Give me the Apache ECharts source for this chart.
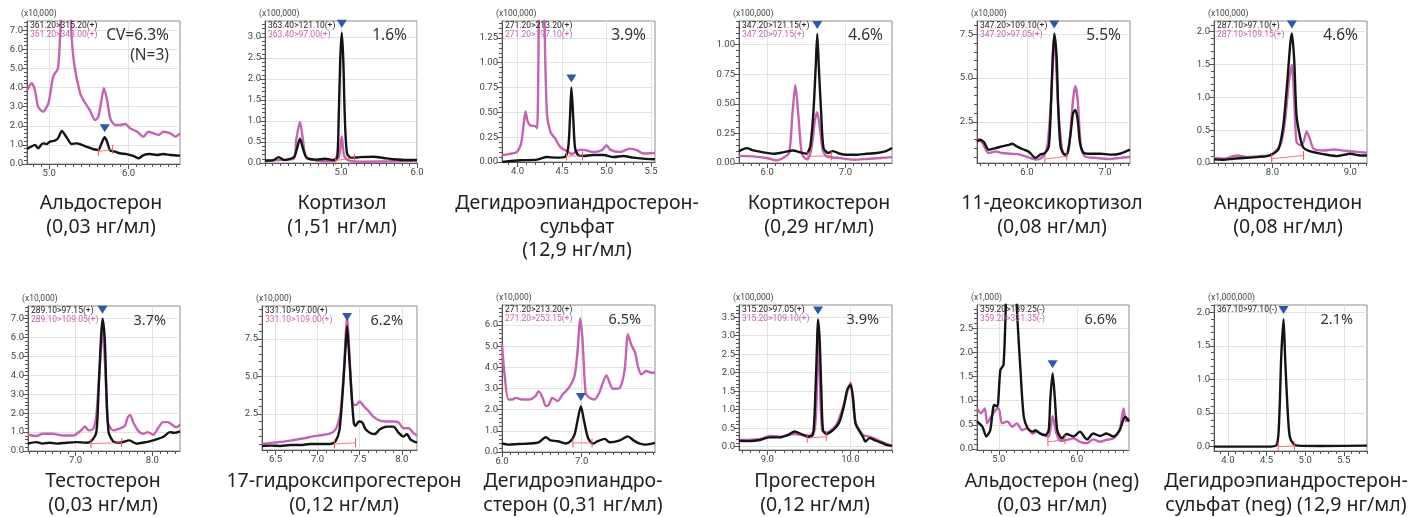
<!DOCTYPE html>
<html>
<head>
<meta charset="utf-8">
<script src="https://cdn.jsdelivr.net/npm/echarts@6.0.0/dist/echarts.min.js"></script>
<style>
html, body { margin: 0; padding: 0; background: #fff; }
#chart { width: 1422px; height: 517px; }
</style>
</head>
<body>
<div id="chart"></div>
<script>
// chromatogram traces, [retention time (min), intensity in axis units]
const aldoBlack = [[4.72,0.79],[4.77,0.9],[4.82,1.0],[4.86,0.82],[4.92,1.08],[4.97,1.05],[5.01,1.17],[5.07,1.22],[5.11,1.34],[5.16,1.73],[5.20,1.52],[5.24,1.26],[5.28,1.05],[5.35,1.08],[5.41,1.0],[5.47,0.9],[5.56,0.77],[5.62,0.73],[5.66,1.08],[5.70,1.4],[5.73,1.17],[5.77,0.7],[5.83,0.65],[5.89,0.56],[5.98,0.52],[6.06,0.42],[6.13,0.3],[6.19,0.47],[6.27,0.52],[6.36,0.47],[6.44,0.52],[6.53,0.47],[6.65,0.44]]
const aldoPink = [[4.72,3.84],[4.78,4.22],[4.82,3.87],[4.86,3.0],[4.92,2.74],[4.99,3.18],[5.05,4.57],[5.11,5.0],[5.14,6.84],[5.18,9.5],[5.26,9.5],[5.28,6.84],[5.32,5.1],[5.39,3.7],[5.43,3.35],[5.51,2.83],[5.58,2.3],[5.62,2.48],[5.66,3.35],[5.69,3.96],[5.73,3.35],[5.77,2.39],[5.83,2.04],[5.89,2.04],[5.96,2.09],[6.02,1.87],[6.11,1.69],[6.19,1.43],[6.25,1.69],[6.32,1.6],[6.38,1.52],[6.44,1.69],[6.53,1.6],[6.59,1.43],[6.65,1.6]]
const cortBlack = [[4.0,0.06],[4.11,0.07],[4.18,0.14],[4.25,0.07],[4.38,0.14],[4.42,0.34],[4.46,0.58],[4.50,0.34],[4.55,0.12],[4.68,0.08],[4.79,0.1],[4.90,0.07],[4.95,0.14],[4.97,1.1],[4.99,2.46],[5.01,3.10],[5.03,2.46],[5.05,1.1],[5.08,0.22],[5.14,0.12],[5.25,0.14],[5.43,0.15],[5.56,0.12],[5.69,0.09],[5.87,0.07],[6.0,0.07]]
const cortPink = [[4.0,0.04],[4.18,0.07],[4.38,0.1],[4.41,0.54],[4.46,0.98],[4.50,0.54],[4.54,0.15],[4.68,0.06],[4.90,0.04],[4.97,0.14],[5.01,0.63],[5.04,0.18],[5.10,0.06],[5.25,0.03],[5.64,0.04],[6.0,0.06]]
const dhsBlack = [[3.83,0.0],[4.03,0.017],[4.22,0.024],[4.33,0.05],[4.44,0.044],[4.53,0.05],[4.57,0.15],[4.59,0.46],[4.605,0.75],[4.625,0.46],[4.645,0.15],[4.68,0.07],[4.74,0.06],[4.85,0.07],[4.97,0.07],[5.08,0.05],[5.19,0.06],[5.30,0.044],[5.41,0.034],[5.545,0.027]]
const dhsPink = [[3.83,0.07],[3.90,0.08],[3.99,0.1],[4.04,0.19],[4.07,0.39],[4.09,0.51],[4.11,0.42],[4.14,0.37],[4.20,0.36],[4.22,0.34],[4.24,1.6],[4.25,3.0],[4.29,3.0],[4.30,1.6],[4.33,0.49],[4.37,0.30],[4.42,0.24],[4.48,0.15],[4.53,0.12],[4.57,0.1],[4.61,0.08],[4.65,0.1],[4.70,0.125],[4.76,0.12],[4.85,0.1],[4.95,0.12],[5.0,0.17],[5.04,0.125],[5.15,0.1],[5.26,0.135],[5.34,0.12],[5.41,0.085],[5.545,0.09]]
const ctcBlack = [[5.64,0.1],[5.74,0.126],[5.82,0.106],[5.95,0.09],[6.08,0.078],[6.20,0.09],[6.33,0.106],[6.42,0.09],[6.50,0.078],[6.55,0.14],[6.59,0.42],[6.62,0.81],[6.64,1.09],[6.66,0.81],[6.69,0.42],[6.72,0.126],[6.78,0.084],[6.84,0.1],[6.93,0.078],[7.01,0.07],[7.14,0.07],[7.27,0.078],[7.40,0.084],[7.52,0.1],[7.595,0.126]]
const ctcPink = [[5.64,0.06],[5.82,0.056],[5.99,0.042],[6.12,0.022],[6.20,0.042],[6.28,0.084],[6.32,0.39],[6.36,0.66],[6.40,0.39],[6.44,0.084],[6.48,0.042],[6.52,0.034],[6.57,0.14],[6.61,0.36],[6.64,0.43],[6.67,0.31],[6.71,0.11],[6.76,0.056],[6.93,0.042],[7.10,0.028],[7.27,0.034],[7.44,0.042],[7.595,0.05]]
const dxcBlack = [[5.36,1.38],[5.40,1.48],[5.45,1.33],[5.51,0.91],[5.60,1.0],[5.68,1.1],[5.77,1.19],[5.81,1.25],[5.87,1.1],[5.94,0.95],[6.02,0.81],[6.11,0.44],[6.17,0.63],[6.23,0.72],[6.28,1.1],[6.31,3.75],[6.33,6.2],[6.35,7.54],[6.38,6.2],[6.40,3.37],[6.43,1.1],[6.48,0.63],[6.52,0.72],[6.56,1.86],[6.59,2.99],[6.62,3.18],[6.65,2.61],[6.68,1.29],[6.73,0.72],[6.81,0.68],[6.94,0.68],[7.06,0.63],[7.19,0.68],[7.32,0.91]]
const dxcPink = [[5.36,1.57],[5.43,1.29],[5.51,0.72],[5.60,0.81],[5.68,0.72],[5.79,0.68],[5.91,0.63],[6.04,0.44],[6.13,0.34],[6.21,0.53],[6.26,1.1],[6.31,3.75],[6.35,7.35],[6.40,3.37],[6.45,0.91],[6.50,0.53],[6.54,1.1],[6.59,3.75],[6.62,4.55],[6.65,3.75],[6.69,1.1],[6.74,0.53],[6.89,0.44],[7.06,0.38],[7.19,0.44],[7.32,0.49]]
const andBlack = [[7.25,0.055],[7.37,0.05],[7.50,0.065],[7.63,0.075],[7.80,0.09],[7.93,0.105],[8.01,0.14],[8.08,0.215],[8.14,0.57],[8.19,1.22],[8.23,1.82],[8.25,1.97],[8.28,1.57],[8.31,0.72],[8.36,0.37],[8.40,0.23],[8.46,0.19],[8.57,0.155],[8.70,0.125],[8.83,0.105],[9.0,0.14],[9.13,0.115],[9.215,0.115]]
const andPink = [[7.25,0.075],[7.37,0.065],[7.54,0.115],[7.67,0.09],[7.84,0.105],[7.97,0.115],[8.10,0.27],[8.16,0.62],[8.21,1.22],[8.25,1.49],[8.28,0.97],[8.31,0.32],[8.36,0.27],[8.40,0.32],[8.44,0.48],[8.48,0.37],[8.53,0.215],[8.66,0.19],[8.79,0.205],[8.91,0.19],[9.04,0.175],[9.215,0.155]]
const tstBlack = [[6.38,0.39],[6.49,0.47],[6.57,0.39],[6.66,0.44],[6.75,0.39],[6.88,0.44],[7.01,0.47],[7.14,0.44],[7.20,0.51],[7.27,1.0],[7.30,3.28],[7.33,5.9],[7.35,7.0],[7.38,5.9],[7.40,3.28],[7.43,1.0],[7.49,0.51],[7.57,0.44],[7.70,0.56],[7.79,0.39],[7.92,0.47],[8.01,0.56],[8.14,0.74],[8.23,1.0],[8.29,0.96],[8.36,1.04]]
const tstPink = [[6.38,0.86],[6.49,0.79],[6.57,0.91],[6.70,0.91],[6.83,0.82],[6.97,0.82],[7.07,1.09],[7.12,1.3],[7.17,1.09],[7.23,1.18],[7.27,1.88],[7.31,4.16],[7.35,6.4],[7.39,4.16],[7.42,1.53],[7.49,1.09],[7.57,1.18],[7.64,1.32],[7.68,1.79],[7.71,1.91],[7.75,1.53],[7.81,1.09],[7.88,0.91],[7.94,1.0],[8.01,0.86],[8.07,1.18],[8.14,1.53],[8.20,1.53],[8.27,1.35],[8.31,1.26],[8.36,1.39]]
const ohpBlack = [[6.34,0.36],[6.44,0.38],[6.56,0.36],[6.68,0.42],[6.80,0.42],[6.91,0.49],[7.03,0.49],[7.15,0.49],[7.21,0.65],[7.26,1.43],[7.30,4.1],[7.33,6.79],[7.35,8.35],[7.37,6.79],[7.40,4.1],[7.43,1.88],[7.45,1.7],[7.49,1.99],[7.53,1.92],[7.57,1.47],[7.63,1.21],[7.68,1.16],[7.74,1.47],[7.82,1.65],[7.90,1.65],[7.96,1.25],[8.02,0.98],[8.06,1.16],[8.10,0.8],[8.18,0.58]]
const ohpPink = [[6.34,0.49],[6.48,0.58],[6.60,0.65],[6.72,0.76],[6.84,0.87],[6.93,0.98],[7.03,1.07],[7.13,1.16],[7.19,1.32],[7.23,1.65],[7.27,2.54],[7.31,5.22],[7.35,8.9],[7.39,5.22],[7.42,3.1],[7.46,3.1],[7.50,3.33],[7.55,2.99],[7.61,2.66],[7.66,2.32],[7.74,2.05],[7.82,1.99],[7.90,1.99],[7.96,1.92],[8.02,1.54],[8.08,1.54],[8.14,1.21],[8.18,1.03]]
const dheBlack = [[6.0,0.4],[6.08,0.35],[6.21,0.38],[6.34,0.4],[6.46,0.46],[6.55,0.7],[6.61,0.55],[6.70,0.51],[6.80,0.4],[6.86,0.51],[6.91,0.82],[6.95,1.53],[6.99,2.17],[7.03,1.46],[7.08,0.66],[7.14,0.4],[7.20,0.51],[7.29,0.62],[7.35,0.46],[7.48,0.55],[7.58,0.74],[7.65,0.55],[7.73,0.4],[7.81,0.35],[7.92,0.43]]
const dhePink = [[6.0,5.09],[6.03,3.75],[6.08,2.48],[6.13,2.48],[6.17,2.56],[6.25,2.48],[6.34,2.48],[6.42,2.64],[6.46,2.88],[6.51,2.56],[6.55,2.17],[6.59,2.25],[6.63,2.56],[6.70,2.41],[6.76,2.72],[6.84,3.04],[6.91,3.59],[6.95,4.86],[6.98,6.31],[7.01,5.33],[7.05,2.8],[7.10,2.56],[7.16,2.48],[7.22,2.8],[7.31,3.62],[7.35,3.28],[7.39,2.99],[7.48,3.04],[7.54,3.91],[7.58,5.57],[7.62,5.09],[7.67,4.7],[7.71,3.99],[7.75,3.67],[7.81,3.83],[7.88,3.75],[7.92,3.75]]
const prgBlack = [[8.66,0.16],[8.79,0.15],[8.91,0.18],[9.03,0.25],[9.15,0.25],[9.25,0.32],[9.33,0.41],[9.41,0.34],[9.49,0.27],[9.55,0.32],[9.58,1.53],[9.60,2.89],[9.61,3.44],[9.63,2.89],[9.65,1.53],[9.67,0.45],[9.71,0.34],[9.77,0.41],[9.83,0.54],[9.87,0.68],[9.92,1.08],[9.96,1.53],[10.0,1.67],[10.03,1.35],[10.06,0.63],[10.10,0.45],[10.15,0.27],[10.18,0.14],[10.23,0.23],[10.29,0.18],[10.37,0.11],[10.43,0.05],[10.5,0.02]]
const prgPink = [[8.66,0.18],[8.91,0.2],[9.03,0.29],[9.15,0.27],[9.33,0.34],[9.41,0.32],[9.49,0.29],[9.57,0.45],[9.60,1.98],[9.61,3.2],[9.63,1.98],[9.66,0.45],[9.71,0.38],[9.83,0.59],[9.92,1.13],[10.0,1.73],[10.06,0.68],[10.15,0.32],[10.23,0.27],[10.37,0.14],[10.5,0.02]]
const aldnBlack = [[4.72,0.57],[4.79,0.46],[4.84,0.26],[4.89,0.39],[4.94,0.91],[4.98,0.88],[5.02,1.64],[5.06,1.74],[5.09,2.98],[5.12,4.5],[5.20,4.5],[5.23,2.98],[5.28,1.57],[5.32,0.67],[5.37,0.43],[5.43,0.36],[5.47,0.39],[5.53,0.32],[5.60,0.29],[5.64,0.39],[5.66,1.02],[5.69,1.57],[5.72,1.02],[5.75,0.39],[5.81,0.22],[5.87,0.31],[5.96,0.26],[6.04,0.36],[6.13,0.2],[6.21,0.32],[6.30,0.27],[6.38,0.32],[6.47,0.26],[6.55,0.39],[6.62,0.67],[6.67,0.57]]
const aldnPink = [[4.72,0.84],[4.77,0.74],[4.82,0.84],[4.85,0.53],[4.89,0.64],[4.96,0.81],[5.0,0.84],[5.04,0.53],[5.11,0.57],[5.17,0.46],[5.23,0.53],[5.30,0.39],[5.36,0.43],[5.43,0.32],[5.49,0.36],[5.57,0.29],[5.64,0.26],[5.69,0.68],[5.74,0.32],[5.79,0.17],[5.87,0.19],[5.96,0.22],[6.04,0.15],[6.13,0.12],[6.21,0.2],[6.30,0.15],[6.38,0.19],[6.47,0.22],[6.55,0.39],[6.60,0.84],[6.63,0.57],[6.67,0.64]]
const dhsnBlack = [[3.82,0.0],[4.10,0.0],[4.50,0.0],[4.63,0.025],[4.665,0.45],[4.69,1.34],[4.72,1.9],[4.74,1.34],[4.77,0.6],[4.80,0.15],[4.85,0.04],[4.91,0.015],[5.20,0.01],[5.80,0.015]]

// integration baselines (start, end)
const aldoBase = [[5.62,0.65],[5.80,0.77]]
const cortBase = [[4.93,0.06],[5.18,0.12]]
const dhsBase = [[4.55,0.06],[4.73,0.06]]
const ctcBase = [[6.52,0.056],[6.82,0.06]]
const dxcBase = [[6.23,0.38],[6.51,0.53]]
const andBase = [[7.99,0.065],[8.40,0.115]]
const tstBase = [[7.20,0.39],[7.60,0.44]]
const ohpBase = [[7.20,0.49],[7.45,0.58]]
const dheBase = [[6.89,0.43],[7.13,0.43]]
const prgBase = [[9.48,0.23],[9.71,0.27]]
const aldnBase = [[5.63,0.15],[5.85,0.19]]
const dhsnBase = [[4.65,0.0],[4.86,0.01]]

const peakRT = [5.70, 5.01, 4.605, 6.64, 6.35, 8.25, 7.35, 7.35, 6.99, 9.61, 5.69, 4.72]

const xTickLabels = [[5.0,6.0],[5.0,6.0],[4.0,4.5,5.0,5.5],[6.0,7.0],[6.0,7.0],[8.0,9.0],[7.0,8.0],[6.5,7.0,7.5,8.0],[6.0,7.0],[9.0,10.0],[5.0,6.0],[4.0,4.5,5.0,5.5]]
const yTickLabels = [[0,1,2,3,4,5,6,7],[0,0.5,1,1.5,2,2.5,3],[0,0.25,0.5,0.75,1,1.25],[0,0.25,0.5,0.75,1],[2.5,5,7.5],[0,0.5,1,1.5,2],[0,1,2,3,4,5,6,7],[2.5,5,7.5],[0,1,2,3,4,5,6],[0,0.5,1,1.5,2,2.5,3,3.5],[0,0.5,1,1.5,2,2.5],[0,0.5,1,1.5,2]]

const units = ['(x10,000)','(x100,000)','(x100,000)','(x100,000)','(x10,000)','(x100,000)','(x10,000)','(x10,000)','(x10,000)','(x100,000)','(x1,000)','(x1,000,000)']
const quantTrans = ['361.20>315.20(+)','363.40>121.10(+)','271.20>213.20(+)','347.20>121.15(+)','347.20>109.10(+)','287.10>97.10(+)','289.10>97.15(+)','331.10>97.00(+)','271.20>213.20(+)','315.20>97.05(+)','359.20>189.25(-)','367.10>97.10(-)']
const qualTrans = ['361.20>343.00(+)','363.40>97.00(+)','271.20>197.10(+)','347.20>97.15(+)','347.20>97.05(+)','287.10>109.15(+)','289.10>109.05(+)','331.10>109.00(+)','271.20>253.15(+)','315.20>109.10(+)','359.20>331.35(-)','']
const cvLabels = ['CV=6.3%\n(N=3)','1.6%','3.9%','4.6%','5.5%','4.6%','3.7%','6.2%','6.5%','3.9%','6.6%','2.1%']
const captions = [
  'Альдостерон\n(0,03 нг/мл)',
  'Кортизол\n(1,51 нг/мл)',
  'Дегидроэпиандростерон-\nсульфат\n(12,9 нг/мл)',
  'Кортикостерон\n(0,29 нг/мл)',
  '11-деоксикортизол\n(0,08 нг/мл)',
  'Андростендион\n(0,08 нг/мл)',
  'Тестостерон\n(0,03 нг/мл)',
  '17-гидроксипрогестерон\n(0,12 нг/мл)',
  'Дегидроэпиандро-\nстерон (0,31 нг/мл)',
  'Прогестерон\n(0,12 нг/мл)',
  'Альдостерон (neg)\n(0,03 нг/мл)',
  'Дегидроэпиандростерон-\nсульфат (neg) (12,9 нг/мл)'
]

const blackTraces = [aldoBlack, cortBlack, dhsBlack, ctcBlack, dxcBlack, andBlack, tstBlack, ohpBlack, dheBlack, prgBlack, aldnBlack, dhsnBlack]
const pinkTraces = [aldoPink, cortPink, dhsPink, ctcPink, dxcPink, andPink, tstPink, ohpPink, dhePink, prgPink, aldnPink, null]
const baselines = [aldoBase, cortBase, dhsBase, ctcBase, dxcBase, andBase, tstBase, ohpBase, dheBase, prgBase, aldnBase, dhsnBase]

// panel layout: grid box, axis ranges, minor y step, decimals, caption centre, cv right edge
const layout = [
  { l: 27, t: 21, w: 153, h: 143, xr: [4.72, 6.65], yr: [0, 7.48], ym: 0.2, yd: 1, cx: 101, cvx: 169 },
  { l: 265, t: 21, w: 152, h: 142, xr: [4.0, 6.0], yr: [0, 3.38], ym: 0.1, yd: 1, cx: 342, cvx: 407 },
  { l: 502, t: 21, w: 153, h: 141, xr: [3.825, 5.545], yr: [0, 1.42], ym: 0.05, yd: 2, cx: 577, cvx: 646 },
  { l: 739, t: 21, w: 153, h: 142, xr: [5.64, 7.595], yr: [0, 1.2], ym: 0.05, yd: 2, cx: 819, cvx: 883 },
  { l: 977, t: 21, w: 153, h: 142, xr: [5.36, 7.32], yr: [0.15, 8.26], ym: 0.5, yd: 1, cx: 1052, cvx: 1121 },
  { l: 1214, t: 21, w: 153, h: 142, xr: [7.25, 9.215], yr: [0, 2.16], ym: 0.1, yd: 1, cx: 1288, cvx: 1358 },
  { l: 28, t: 306, w: 152, h: 145, xr: [6.38, 8.36], yr: [0, 7.67], ym: 0.2, yd: 1, cx: 103, cvx: 166 },
  { l: 262, t: 306, w: 155, h: 144, xr: [6.34, 8.18], yr: [0.09, 9.69], ym: 0.5, yd: 1, cx: 344, cvx: 403 },
  { l: 502, t: 305, w: 153, h: 147, xr: [6.0, 7.92], yr: [0, 6.95], ym: 0.2, yd: 1, cx: 573, cvx: 641 },
  { l: 739, t: 305, w: 153, h: 145, xr: [8.66, 10.5], yr: [-0.09, 3.83], ym: 0.1, yd: 1, cx: 815, cvx: 879 },
  { l: 977, t: 305, w: 152, h: 145, xr: [4.72, 6.67], yr: [-0.02, 2.98], ym: 0.1, yd: 1, cx: 1052, cvx: 1117 },
  { l: 1214, t: 305, w: 153, h: 146, xr: [3.82, 5.80], yr: [-0.065, 2.11], ym: 0.1, yd: 1, cx: 1286, cvx: 1353 }
]

const BLACK = '#141414'
const PINK = '#c563b2'
const RED = '#f05a5a'
const AXIS = '#555'

const stepsIn = (min, max, step) => {
  const out = []
  for (let k = Math.ceil(min / step - 1e-6); k * step <= max + 1e-6; k++) out.push(+(k * step).toFixed(4))
  return out
}
const nearest = (trace, rt) => trace.reduce((b, p) => Math.abs(p[0] - rt) < Math.abs(b[0] - rt) ? p : b, trace[0])

const grids = []
const xAxes = []
const yAxes = []
const series = []
const graphics = []

layout.forEach((p, i) => {
  grids.push({ left: p.l, top: p.t, width: p.w, height: p.h, show: true, borderColor: '#8c8c8c', borderWidth: 1, backgroundColor: '#fff', containLabel: false })

  const xt = xTickLabels[i]
  const yt = yTickLabels[i]
  xAxes.push({
    type: 'value', gridIndex: i, min: p.xr[0], max: p.xr[1], position: 'bottom',
    axisLine: { onZero: false, lineStyle: { color: AXIS } },
    axisTick: { customValues: xt, length: 5, lineStyle: { color: AXIS } },
    axisLabel: { customValues: xt, formatter: v => v.toFixed(1), fontSize: 9.5, color: '#444', margin: 5, fontFamily: 'Roboto' },
    splitLine: { show: true, lineStyle: { color: '#e2e2e2' } }
  })
  xAxes.push({
    type: 'value', gridIndex: i, min: p.xr[0], max: p.xr[1], position: 'bottom',
    axisLine: { show: false, onZero: false },
    axisTick: { customValues: stepsIn(p.xr[0], p.xr[1], 0.1), length: 3, lineStyle: { color: AXIS } },
    axisLabel: { show: false }, splitLine: { show: false }
  })
  yAxes.push({
    type: 'value', gridIndex: i, min: p.yr[0], max: p.yr[1], position: 'left',
    axisLine: { show: true, onZero: false, lineStyle: { color: AXIS } },
    axisTick: { show: true, customValues: yt, length: 5, lineStyle: { color: AXIS } },
    axisLabel: { customValues: yt, formatter: v => v.toFixed(p.yd), fontSize: 9.5, color: '#444', margin: 4, fontFamily: 'Roboto' },
    splitLine: { show: true, lineStyle: { color: '#e2e2e2' } }
  })
  yAxes.push({
    type: 'value', gridIndex: i, min: p.yr[0], max: p.yr[1], position: 'left',
    axisLine: { show: false, onZero: false },
    axisTick: { show: true, customValues: stepsIn(p.yr[0], p.yr[1], p.ym), length: 3, lineStyle: { color: AXIS } },
    axisLabel: { show: false }, splitLine: { show: false }
  })

  const common = { type: 'line', xAxisIndex: 2 * i, yAxisIndex: 2 * i, showSymbol: false, silent: true, animation: false, clip: true }
  if (pinkTraces[i]) {
    series.push({ ...common, data: pinkTraces[i], smooth: 0.25, lineStyle: { color: PINK, width: 2.4 }, z: 2 })
  }
  const apex = nearest(blackTraces[i], peakRT[i])
  series.push({
    ...common, data: blackTraces[i], smooth: 0.25, lineStyle: { color: BLACK, width: 2.4 }, z: 3,
    markPoint: {
      symbol: 'triangle', symbolRotate: 180, symbolSize: [10, 8], symbolOffset: [0, -9], silent: true,
      itemStyle: { color: '#2b5ba8' }, label: { show: false },
      data: [{ coord: apex }]
    }
  })
  series.push({
    ...common, data: baselines[i], showSymbol: true, symbol: 'rect', symbolSize: [1, 9],
    itemStyle: { color: RED }, lineStyle: { color: RED, width: 1, opacity: 0.8 }, z: 4
  })

  const small = '8.5px Roboto'
  graphics.push({ type: 'text', x: p.l - 6, y: p.t - 7, silent: true,
    style: { text: units[i], font: small, fill: '#444', align: 'left', verticalAlign: 'middle', textAlign: 'left', textVerticalAlign: 'middle' } })
  graphics.push({ type: 'text', x: p.l + 3, y: p.t + 5, silent: true, z: 10,
    style: { text: quantTrans[i], font: small, fill: '#222', align: 'left', verticalAlign: 'middle', textAlign: 'left', textVerticalAlign: 'middle' } })
  if (qualTrans[i]) {
    graphics.push({ type: 'text', x: p.l + 3, y: p.t + 13.5, silent: true, z: 10,
      style: { text: qualTrans[i], font: small, fill: PINK, align: 'left', verticalAlign: 'middle', textAlign: 'left', textVerticalAlign: 'middle' } })
  }
  const top = i < 6
  graphics.push({ type: 'text', x: p.cvx, y: p.t + 5, silent: true, z: 10,
    style: { text: cvLabels[i], font: (top ? '15.5px' : '14.5px') + ' "Noto Sans"', fill: '#333', lineHeight: 20,
      align: 'right', verticalAlign: 'top', textAlign: 'right', textVerticalAlign: 'top' } })
  graphics.push({ type: 'text', x: p.cx, y: top ? 192 : 470, silent: true,
    style: { text: captions[i], font: '19.5px "Noto Sans"', fill: '#222', lineHeight: 23.5,
      align: 'center', verticalAlign: 'top', textAlign: 'center', textVerticalAlign: 'top' } })
})

const chart = echarts.init(document.getElementById('chart'), null, { renderer: 'canvas' })
chart.setOption({
  backgroundColor: '#fff',
  animation: false,
  grid: grids,
  xAxis: xAxes,
  yAxis: yAxes,
  series,
  graphic: { elements: graphics }
})
</script>
</body>
</html>
